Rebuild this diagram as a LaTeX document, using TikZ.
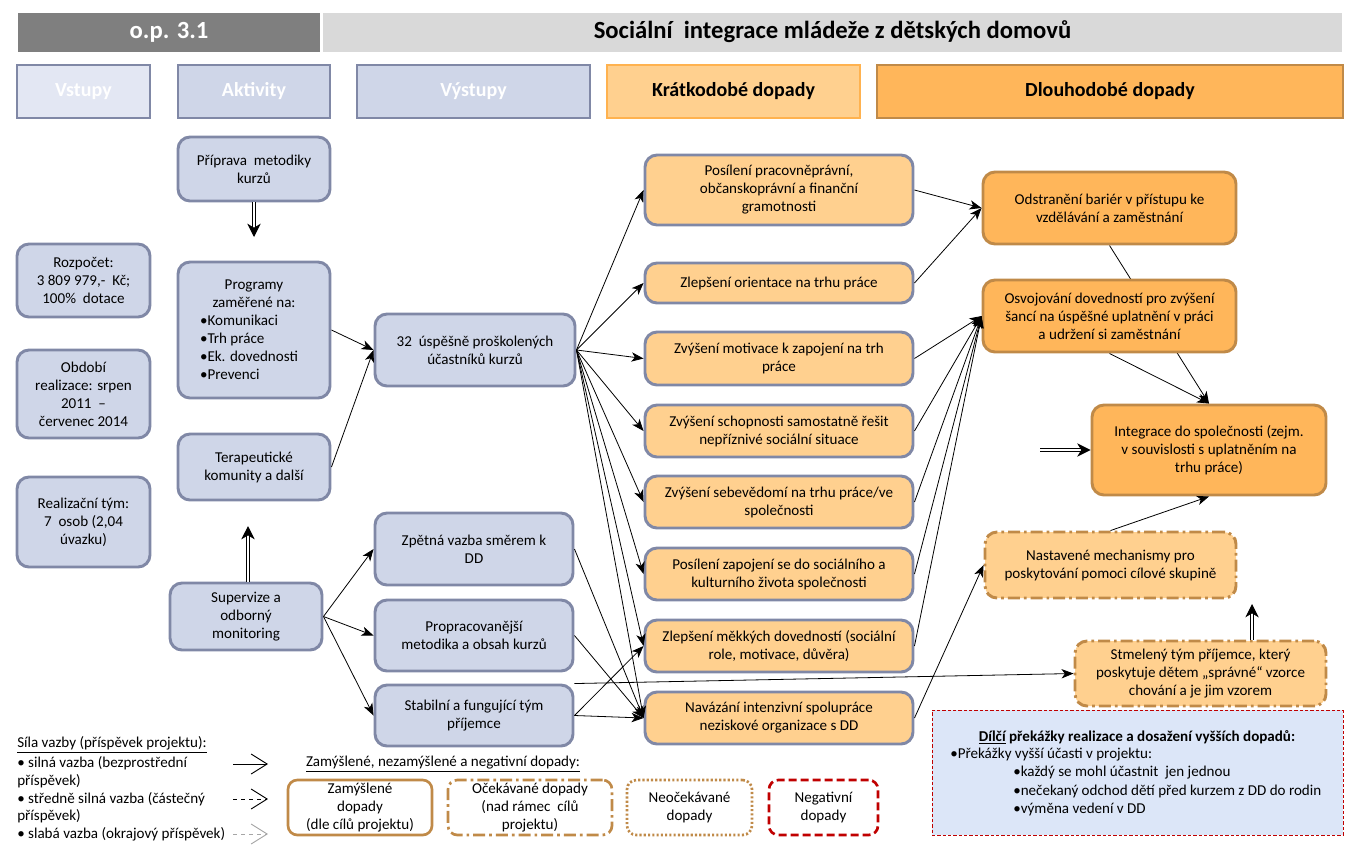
\documentclass[tikz,border=0pt]{standalone}
\usepackage{fontspec}
\setmainfont{Carlito}
\usetikzlibrary{arrows.meta,backgrounds}
\definecolor{hgray}{HTML}{7F7F7F}
\definecolor{hlight}{HTML}{D9D9D9}
\definecolor{vfill}{HTML}{E3E7F3}
\definecolor{bfill}{HTML}{CFD6E8}
\definecolor{bbord}{HTML}{8088A6}
\definecolor{ofill}{HTML}{FFD08F}
\definecolor{kbord}{HTML}{FFB24F}
\definecolor{lfill}{HTML}{FFB65A}
\definecolor{lbord}{HTML}{C08A48}
\definecolor{dfill}{HTML}{DCE6F8}
\definecolor{negred}{HTML}{C00000}
\tikzset{
  sz/.style 2 args={minimum width=#1*0.75pt, minimum height=#2*0.75pt},
  base/.style={rounded corners=9pt, line width=2.2pt, align=center, inner sep=0pt,
    font=\fontsize{11.3}{13.5}\selectfont},
  bluebox/.style={base, draw=bbord, fill=bfill},
  stbox/.style={base, draw=bbord, fill=ofill},
  ltbox/.style={base, draw=lbord, fill=lfill},
  expbox/.style={base, draw=lbord, fill=ofill, dash pattern=on 9pt off 3pt on 2pt off 3pt},
  topbar/.style={inner sep=0pt, draw=none, text height=13pt, text depth=4pt, font=\fontsize{18.5}{22}\selectfont\bfseries},
  colhdr/.style={inner sep=0pt, line width=2.2pt, text height=11pt, text depth=3pt, font=\fontsize{15}{18}\selectfont\bfseries},
  conn/.style={line width=0.6pt, -{Stealth[length=9pt,width=7pt,inset=2.5pt]}},
  dbl/.style={double, double distance=2pt, line width=0.8pt, -{Stealth[length=10pt,width=10pt,inset=3pt]}},
  legtxt/.style={anchor=west, inner sep=0pt, font=\fontsize{11.3}{13.5}\selectfont},
  legbox/.style={base, fill=white, line width=2pt, rounded corners=7pt},
  legarr/.style={line width=0.7pt, -{Straight Barb[length=12pt,width=15pt]}},
}
\newcommand{\lst}[1]{\makebox[81pt][l]{#1}}
\begin{document}
\begin{tikzpicture}[x=0.75pt,y=-0.75pt]
\useasboundingbox (0,0) rectangle (1358,847);

% top bar
\node[topbar, fill=hgray, text=white, sz={302}{39}] (op) at (169,32.5) {o.p. 3.1};
\node[topbar, fill=hlight, text=black, sz={1019}{39}] (title) at (832.5,32.5) {Sociální \ integrace mládeže z dětských domovů};

% column headers
\node[colhdr, draw=bbord, fill=vfill, text=white, sz={133}{53}] (hvst) at (83.5,91.5) {Vstupy};
\node[colhdr, draw=bbord, fill=bfill, text=white, sz={152}{53}] (hakt) at (254,91.5) {Aktivity};
\node[colhdr, draw=bbord, fill=bfill, text=white, sz={233}{53}] (hvys) at (473.5,91.5) {Výstupy};
\node[colhdr, draw=kbord, fill=ofill, text=black, sz={253}{53}] (hkra) at (733.5,91.5) {Krátkodobé dopady};
\node[colhdr, draw=lbord, fill=lfill, text=black, sz={466}{53}] (hdlo) at (1110,91.5) {Dlouhodobé dopady};

% inputs
\node[bluebox, sz={133}{73}] (rozp) at (83.5,280.5) {Rozpočet:\\3 809 979,- \ Kč;\\100\% \ dotace};
\node[bluebox, sz={133}{88}] (obd) at (83.5,394) {Období\\realizace: srpen\\2011 \ –\\červenec 2014};
\node[bluebox, sz={133}{90}] (tym) at (83.5,522) {Realizační tým:\\7 \ osob (2,04\\úvazku)};

% activities
\node[bluebox, sz={152}{64}] (prip) at (254,169) {Příprava \ metodiky\\kurzů};
\node[bluebox, sz={152}{136}] (prog) at (254,330) {Programy\\zaměřené na:\\\lst{•Komunikaci}\\\lst{•Trh práce}\\\lst{•Ek. dovednosti}\\\lst{•Prevenci}};
\node[bluebox, sz={152}{66}] (ter) at (254,467) {Terapeutické\\komunity a další};
\node[bluebox, sz={152}{67}] (sup) at (246,616.5) {Supervize a\\odborný\\monitoring};

% outputs
\node[bluebox, sz={200}{72}] (v32) at (475,350) {32 \ úspěšně proškolených\\účastníků kurzů};
\node[bluebox, sz={198}{72}] (zpet) at (474,549) {Zpětná vazba směrem k\\DD};
\node[bluebox, sz={198}{71}] (prop) at (474,635.5) {Propracovanější\\metodika a obsah kurzů};
\node[bluebox, sz={198}{61}] (stab) at (474,715.5) {Stabilní a fungující tým\\příjemce};

% short-term
\node[stbox, sz={268}{70}] (s1) at (779,190) {Posílení pracovněprávní,\\občanskoprávní a finanční\\gramotnosti};
\node[stbox, sz={268}{40}] (s2) at (779,283) {Zlepšení orientace na trhu práce};
\node[stbox, sz={268}{53}] (s3) at (779,358.5) {Zvýšení motivace k zapojení na trh\\práce};
\node[stbox, sz={268}{52}] (s4) at (779,431) {Zvýšení schopnosti samostatně řešit\\nepříznivé sociální situace};
\node[stbox, sz={268}{52}] (s5) at (779,502) {Zvýšení sebevědomí na trhu práce/ve\\společnosti};
\node[stbox, sz={268}{52}] (s6) at (779,574) {Posílení zapojení se do sociálního a\\kulturního života společnosti};
\node[stbox, sz={268}{52}] (s7) at (779,646) {Zlepšení měkkých dovedností (sociální\\role, motivace, důvěra)};
\node[stbox, sz={268}{52}] (s8) at (779,718) {Navázání intenzivní spolupráce\\neziskové organizace s DD};

% long-term
\node[ltbox, sz={253}{72}] (l1) at (1109.5,208) {Odstranění bariér v přístupu ke\\vzdělávání a zaměstnání};
\node[ltbox, sz={253}{72}] (l2) at (1109.5,316) {Osvojování dovedností pro zvýšení\\šancí na úspěšné uplatnění v práci\\a udržení si zaměstnání};
\node[ltbox, sz={234}{90}] (l3) at (1209,450) {Integrace do společnosti (zejm.\\v souvislosti s uplatněním na\\trhu práce)};
\node[expbox, sz={251}{66}] (n1) at (1110.5,565) {Nastavené mechanismy pro\\poskytování pomoci cílové skupině};
\node[expbox, sz={251}{65}] (n2) at (1200.5,673.5) {Stmelený tým příjemce, který\\poskytuje dětem „správné“ vzorce\\chování a je jim vzorem};

% obstacles box
\node[draw=negred, fill=dfill, line width=0.6pt, dash pattern=on 2.5pt off 1.5pt, inner sep=0pt, sz={411}{125}] (dil) at (1137.5,772.5) {};
\node[inner sep=0pt, font=\fontsize{11.3}{13.5}\selectfont\bfseries] (dilt) at (1137,737) {\underline{Dílčí} překážky realizace a dosažení vyšších dopadů:};
\node[legtxt] (d1) at (950,755) {•Překážky vyšší účasti v projektu:};
\node[legtxt] (d2) at (1013,773) {•každý se mohl účastnit \ jen jednou};
\node[legtxt] (d3) at (1013,791) {•nečekaný odchod dětí před kurzem z DD do rodin};
\node[legtxt] (d4) at (1013,809) {•výměna vedení v DD};

% legend
\node[legtxt] (lg0) at (17,745) {\underline{Síla vazby (příspěvek projektu):}};
\node[legtxt] (lg1) at (17,763) {• silná vazba (bezprostřední};
\node[legtxt] (lg2) at (17,781) {příspěvek)};
\node[legtxt] (lg3) at (17,799) {• středně silná vazba (částečný};
\node[legtxt] (lg4) at (17,816) {příspěvek)};
\node[legtxt] (lg5) at (17,834) {• slabá vazba (okrajový příspěvek)};
\coordinate (a1s) at (233,764); \coordinate (a1e) at (268,764);
\coordinate (a2s) at (233,799); \coordinate (a2e) at (268,799);
\coordinate (a3s) at (233,834); \coordinate (a3e) at (268,834);
\draw[legarr] (a1s) -- (a1e);
\draw[legarr, dashed] (a2s) -- (a2e);
\draw[legarr, dashed, draw=gray!70] (a3s) -- (a3e);

\node[inner sep=0pt, font=\fontsize{11.3}{13.5}\selectfont] (zlab) at (443,764) {\underline{Zamýšlené, nezamýšlené a negativní dopady:}};
\node[legbox, draw=lbord, sz={144}{55}] (lz) at (360,807.5) {Zamýšlené\\dopady\\(dle cílů projektu)};
\node[legbox, draw=lbord, sz={164}{55}, dash pattern=on 9pt off 3pt on 2pt off 3pt] (lo) at (530,807.5) {Očekávané dopady\\(nad rámec \ cílů\\projektu)};
\node[legbox, draw=lbord, sz={125}{55}, dash pattern=on 1.6pt off 1.6pt] (ln) at (689.5,807.5) {Neočekávané\\dopady};
\node[legbox, draw=negred, sz={109}{55}, dash pattern=on 6pt off 3pt] (lneg) at (823.5,807.5) {Negativní\\dopady};

% connectors
\draw[conn] (prog.east) -- (v32.west);
\draw[conn] (ter.east) -- (v32.west);
\foreach \t in {s1,s2,s3,s4,s5,s6,s7,s8} \draw[conn] (v32.east) -- (\t.west);
\draw[conn] (sup.east) -- (zpet.west);
\draw[conn] (sup.east) -- (prop.west);
\draw[conn] (sup.east) -- (stab.west);
\draw[conn] (zpet.east) -- (s8.west);
\draw[conn] (prop.east) -- (s8.west);
\draw[conn] (stab.east) -- (s7.west);
\draw[conn] (stab.east) -- (s8.west);
\draw[conn] (stab.north east) -- (n2.west);
\draw[conn] (s1.east) -- (l1.west);
\draw[conn] (s2.east) -- (l1.west);
\foreach \t in {s3,s4,s5,s6,s7} \draw[conn] (\t.east) -- (l2.west);
\draw[conn] (s8.east) -- (n1.west);
\begin{scope}[on background layer]
\draw[conn] (l1.south) -- (l3.north);
\end{scope}
\draw[conn] (l2.south) -- (l3.north);
\draw[conn] (n1.north) -- (l3.south);

% double arrows
\coordinate (pe) at (254,237);
\draw[dbl] (prip.south) -- (pe);
\coordinate (te) at (248,526);
\draw[dbl] (sup.north -| te) -- (te);
\coordinate (ie) at (1040,450);
\draw[dbl] (ie) -- (l3.west);
\coordinate (ne) at (1252,604);
\draw[dbl] (n2.north -| ne) -- (ne);
\end{tikzpicture}
\end{document}
